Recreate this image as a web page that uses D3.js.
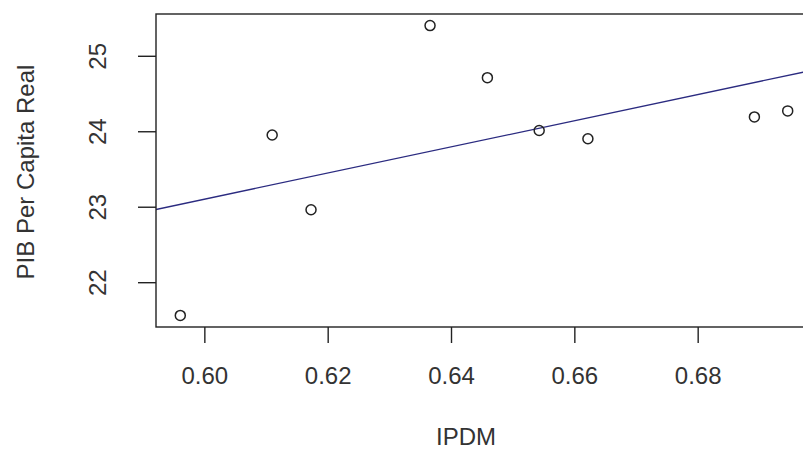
<!DOCTYPE html>
<html>
<head>
<meta charset="utf-8">
<script src="https://cdn.jsdelivr.net/npm/d3@7"></script>
<style>
  body { margin: 0; background: #fff; }
  svg { display: block; }
  text { font-family: "Liberation Sans", Arial, sans-serif; fill: #333; }
</style>
</head>
<body>
<div id="chart"></div>
<script>
"use strict";

// IPDM vs PIB per capita (log)
var ipdm = [0.5961, 0.6110, 0.6173, 0.6366, 0.6459, 0.6543, 0.6622, 0.6892, 0.6946];
var pib = [21.56, 23.95, 22.96, 25.40, 24.71, 24.01, 23.90, 24.19, 24.27];
var xTicks = [0.60, 0.62, 0.64, 0.66, 0.68];
var yTicks = [22, 23, 24, 25];

var width = 803, height = 450;
var margin = { left: 156, top: 14, right: -9, bottom: 123 };
var fontSize = 24;

var svg = d3.select("#chart").append("svg")
  .attr("width", width)
  .attr("height", height);

// R style 4% padding on each side
function padded(ext) {
  var d = (ext[1] - ext[0]) * 0.04;
  return [ext[0] - d, ext[1] + d];
}

var x = d3.scaleLinear()
  .domain(padded(d3.extent(ipdm)))
  .range([margin.left, width - margin.right]);
var y = d3.scaleLinear()
  .domain(padded(d3.extent(pib)))
  .range([height - margin.bottom, margin.top]);

var points = ipdm.map(function (v, i) { return { x: v, y: pib[i] }; });

// least squares line, like abline(lm(...))
var mx = d3.mean(ipdm), my = d3.mean(pib);
var sxy = d3.sum(points, function (d) { return (d.x - mx) * (d.y - my); });
var sxx = d3.sum(points, function (d) { return (d.x - mx) * (d.x - mx); });
var slope = sxy / sxx;
var intercept = my - slope * mx;

var plot = svg.append("g");

plot.append("defs").append("clipPath").attr("id", "clip")
  .append("rect")
  .attr("x", x.range()[0]).attr("y", y.range()[1])
  .attr("width", x.range()[1] - x.range()[0])
  .attr("height", y.range()[0] - y.range()[1]);

var xd = x.domain();
plot.append("line")
  .attr("clip-path", "url(#clip)")
  .attr("x1", x(xd[0])).attr("y1", y(intercept + slope * xd[0]))
  .attr("x2", x(xd[1])).attr("y2", y(intercept + slope * xd[1]))
  .attr("stroke", "#2b2b80")
  .attr("stroke-width", 1.3);

plot.selectAll("circle.pt")
  .data(points)
  .enter()
  .append("circle")
  .attr("class", "pt")
  .attr("cx", function (d) { return x(d.x); })
  .attr("cy", function (d) { return y(d.y); })
  .attr("r", 5)
  .attr("fill", "none")
  .attr("stroke", "#222")
  .attr("stroke-width", 1.5);

// box
plot.append("rect")
  .attr("x", x.range()[0]).attr("y", y.range()[1])
  .attr("width", x.range()[1] - x.range()[0])
  .attr("height", y.range()[0] - y.range()[1])
  .attr("fill", "none")
  .attr("stroke", "#222")
  .attr("stroke-width", 1.4);

var xAxis = d3.axisBottom(x).tickValues(xTicks).tickSize(16).tickPadding(8)
  .tickFormat(d3.format(".2f"));
var gx = svg.append("g")
  .attr("transform", "translate(0," + (height - margin.bottom) + ")")
  .call(xAxis);
gx.select(".domain").remove();

var yAxis = d3.axisLeft(y).tickValues(yTicks).tickSize(18).tickPadding(9)
  .tickFormat(d3.format("d"));
var gy = svg.append("g")
  .attr("transform", "translate(" + margin.left + ",0)")
  .call(yAxis);
gy.select(".domain").remove();

svg.selectAll(".tick line").attr("stroke", "#222").attr("stroke-width", 1.4);
svg.selectAll(".tick text").attr("font-size", fontSize).attr("fill", "#333");

gx.selectAll(".tick text")
  .attr("y", 49)
  .attr("dy", "0.35em");

// rotated y tick labels like R's default las=0
gy.selectAll(".tick text")
  .attr("text-anchor", "middle")
  .attr("x", null)
  .attr("dy", "0.35em")
  .attr("transform", "translate(-58,0) rotate(-90)");

svg.append("text")
  .attr("x", 466)
  .attr("y", 445)
  .attr("text-anchor", "middle")
  .attr("font-size", fontSize)
  .text("IPDM");

svg.append("text")
  .attr("transform", "translate(34,172) rotate(-90)")
  .attr("text-anchor", "middle")
  .attr("font-size", fontSize)
  .text("PIB Per Capita Real");
</script>
</body>
</html>
